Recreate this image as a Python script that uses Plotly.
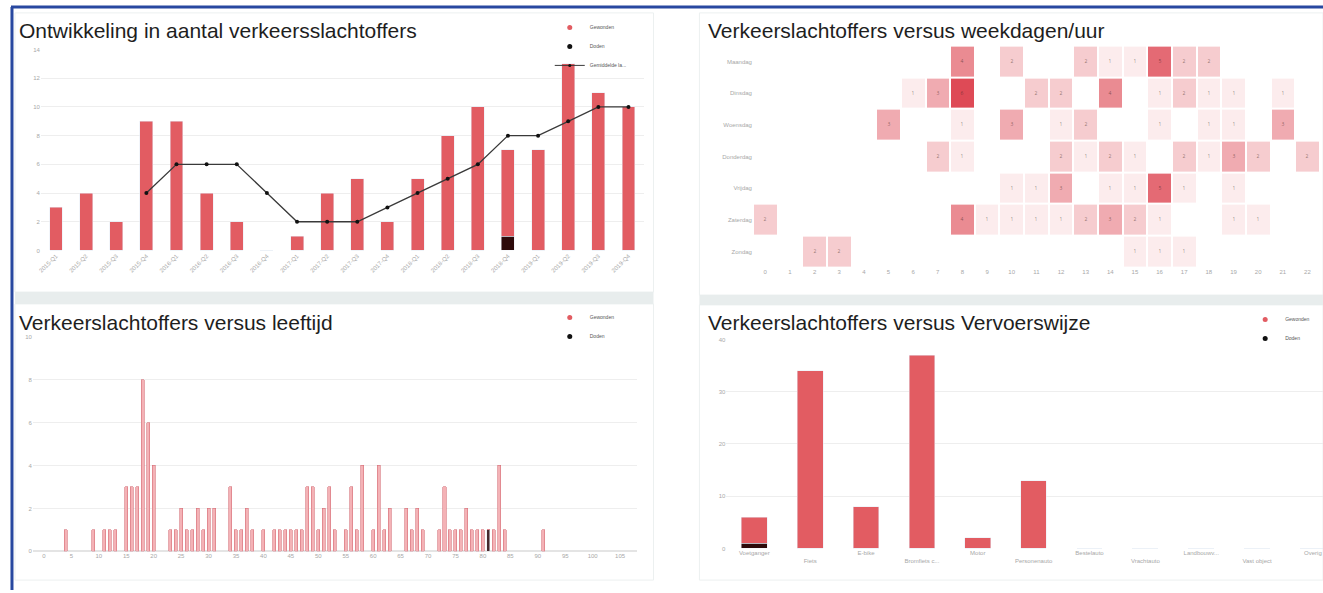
import plotly.graph_objects as go

W, H = 1323, 593

# ---------------- data ----------------
periods = ["2015-Q1", "2015-Q2", "2015-Q3", "2015-Q4", "2016-Q1", "2016-Q2", "2016-Q3", "2016-Q4",
           "2017-Q1", "2017-Q2", "2017-Q3", "2017-Q4", "2018-Q1", "2018-Q2", "2018-Q3", "2018-Q4",
           "2019-Q1", "2019-Q2", "2019-Q3", "2019-Q4"]
period_gewonden = [3, 4, 2, 9, 9, 4, 2, 0, 1, 4, 5, 2, 5, 8, 10, 6, 7, 13, 11, 10]
period_doden = [0, 0, 0, 0, 0, 0, 0, 0, 0, 0, 0, 0, 0, 0, 0, 1, 0, 0, 0, 0]
period_gemiddelde = [None, None, None, 4, 6, 6, 6, 4, 2, 2, 2, 3, 4, 5, 6, 8, 8, 9, 10, 10]

days = ["Maandag", "Dinsdag", "Woensdag", "Donderdag", "Vrijdag", "Zaterdag", "Zondag"]
hours = list(range(24))
# counts per day (rows) and hour (cols); missing = no victims
heat_maandag = {8: 4, 10: 2, 13: 2, 14: 1, 15: 1, 16: 5, 17: 2, 18: 2}
heat_dinsdag = {6: 1, 7: 3, 8: 6, 11: 2, 12: 2, 14: 4, 16: 1, 17: 2, 18: 1, 19: 1, 21: 1}
heat_woensdag = {5: 3, 8: 1, 10: 3, 12: 1, 13: 2, 16: 1, 18: 1, 19: 1, 21: 3}
heat_donderdag = {7: 2, 8: 1, 12: 2, 13: 1, 14: 2, 15: 1, 17: 2, 18: 1, 19: 3, 20: 2, 22: 2}
heat_vrijdag = {10: 1, 11: 1, 12: 3, 14: 1, 15: 1, 16: 5, 17: 1, 19: 1}
heat_zaterdag = {0: 2, 8: 4, 9: 1, 10: 1, 11: 1, 12: 1, 13: 2, 14: 3, 15: 2, 16: 1, 19: 1, 20: 1}
heat_zondag = {2: 2, 3: 2, 15: 1, 16: 1, 17: 1}

ages = [4, 9, 11, 12, 13, 15, 16, 17, 18, 19, 20, 23, 24, 25, 26, 27, 28, 29, 30, 31,
        34, 35, 36, 37, 38, 40, 42, 43, 44, 45, 46, 47, 48, 49, 50, 51, 52, 53, 55, 56,
        57, 58, 60, 61, 62, 63, 66, 67, 68, 69, 72, 73, 74, 75, 76, 77, 78, 79, 80, 81,
        82, 83, 84, 91]
age_gewonden = [1, 1, 1, 1, 1, 3, 3, 3, 8, 6, 4, 1, 1, 2, 1, 1, 2, 1, 2, 2,
                3, 1, 1, 2, 1, 1, 1, 1, 1, 1, 1, 1, 3, 3, 1, 2, 3, 1, 1, 3,
                1, 4, 1, 4, 1, 2, 2, 1, 2, 1, 1, 3, 1, 1, 1, 2, 1, 1, 1, 0,
                1, 4, 1, 1]
age_doden = [0] * 59 + [1] + [0] * 4

modes = ["Voetganger", "Fiets", "E-bike", "Bromfiets c...", "Motor", "Personenauto",
         "Bestelauto", "Vrachtauto", "Landbouwv...", "Vast object", "Overig"]
mode_gewonden = [5, 34, 8, 37, 2, 13, 0, 0, 0, 0, 0]
mode_doden = [1, 0, 0, 0, 0, 0, 0, 0, 0, 0, 0]

# ---------------- styling ----------------
RED = "rgb(226,92,98)"
DARK = "rgb(45,10,10)"
PINK = "rgb(244,178,182)"
PINK_LINE = "rgb(214,112,120)"
TICK = dict(size=6, color="#a8a8a8", family="Liberation Sans")
TITLE_FONT = dict(size=21, color="#1e1e1e", family="Liberation Sans")


def fx(px):
    return px / W


def fy(py):
    return 1 - py / H


fig = go.Figure()

# ---------- panel 1: development over time ----------
fig.add_trace(go.Bar(x=periods, y=period_doden, marker_color=DARK, width=0.43,
                     xaxis="x", yaxis="y", showlegend=False, name="Doden"))
fig.add_trace(go.Bar(x=periods, y=period_gewonden, marker_color=RED, width=0.43,
                     xaxis="x", yaxis="y", showlegend=False, name="Gewonden"))
fig.add_trace(go.Scatter(x=periods, y=period_gemiddelde, mode="lines+markers",
                         line=dict(color="#3a3a3a", width=1.3),
                         marker=dict(color="#111", size=4),
                         xaxis="x", yaxis="y", name="Gemiddelde la...",
                         showlegend=False, connectgaps=False))
# legend entries panel 1
fig.add_trace(go.Scatter(x=[None], y=[None], mode="markers", marker=dict(color=RED, size=5),
                         name="Gewonden", legend="legend", xaxis="x", yaxis="y"))
fig.add_trace(go.Scatter(x=[None], y=[None], mode="markers", marker=dict(color="#111", size=5),
                         name="Doden", legend="legend", xaxis="x", yaxis="y"))
fig.add_trace(go.Scatter(x=[None], y=[None], mode="lines+markers",
                         line=dict(color="#3a3a3a", width=1), marker=dict(color="#111", size=3),
                         name="Gemiddelde la...", legend="legend", xaxis="x", yaxis="y"))

# ---------- panel 2: heatmap ----------
rows = [heat_maandag, heat_dinsdag, heat_woensdag, heat_donderdag, heat_vrijdag,
        heat_zaterdag, heat_zondag]
z = [[r.get(h) for h in hours] for r in rows]
fig.add_trace(go.Heatmap(z=z, x=hours, y=days, xaxis="x2", yaxis="y2",
                         colorscale=[[0, "rgb(252,236,237)"], [1, "rgb(222,74,86)"]],
                         zmin=1, zmax=6, showscale=False, xgap=2, ygap=2,
                         texttemplate="%{z}", textfont=dict(size=5, color="rgba(60,30,30,0.55)"),
                         hoverongaps=False))

# ---------- panel 3: age ----------
fig.add_trace(go.Bar(x=ages, y=age_doden, marker=dict(color="rgb(70,40,45)"), width=0.55,
                     xaxis="x3", yaxis="y3", showlegend=False, name="Doden"))
fig.add_trace(go.Bar(x=ages, y=age_gewonden,
                     marker=dict(color=PINK, line=dict(color=PINK_LINE, width=0.6)), width=0.55,
                     xaxis="x3", yaxis="y3", showlegend=False, name="Gewonden"))
fig.add_trace(go.Scatter(x=[None], y=[None], mode="markers", marker=dict(color=RED, size=5),
                         name="Gewonden", legend="legend2", xaxis="x3", yaxis="y3"))
fig.add_trace(go.Scatter(x=[None], y=[None], mode="markers", marker=dict(color="#111", size=5),
                         name="Doden", legend="legend2", xaxis="x3", yaxis="y3"))

# ---------- panel 4: mode of transport ----------
fig.add_trace(go.Bar(x=modes, y=mode_doden, marker_color=DARK, width=0.46,
                     xaxis="x4", yaxis="y4", showlegend=False, name="Doden"))
fig.add_trace(go.Bar(x=modes, y=mode_gewonden, marker_color=RED, width=0.46,
                     xaxis="x4", yaxis="y4", showlegend=False, name="Gewonden"))
fig.add_trace(go.Scatter(x=[None], y=[None], mode="markers", marker=dict(color=RED, size=5),
                         name="Gewonden", legend="legend3", xaxis="x4", yaxis="y4"))
fig.add_trace(go.Scatter(x=[None], y=[None], mode="markers", marker=dict(color="#111", size=5),
                         name="Doden", legend="legend3", xaxis="x4", yaxis="y4"))

mode_ticktext = [m if i % 2 == 0 else "<br>" + m for i, m in enumerate(modes)]

grid = "rgba(236,236,236,0.9)"
legend_common = dict(font=dict(size=5, color="#555", family="Liberation Sans"),
                     bgcolor="rgba(0,0,0,0)", itemsizing="trace", traceorder="normal",
                     tracegroupgap=0, xanchor="left", yanchor="top")

h0 = 764
hstep = 24.7
a0 = 41
astep = 5.5

fig.update_layout(
    width=W, height=H, margin=dict(l=0, r=0, t=0, b=0),
    paper_bgcolor="white", plot_bgcolor="white",
    barmode="stack",
    xaxis=dict(domain=[fx(38), fx(642)], anchor="y", type="category", range=[-0.5, 19.5],
               tickangle=-45, tickfont=TICK, showgrid=False, showline=False, ticks=""),
    yaxis=dict(domain=[fy(250), fy(47)], anchor="x", range=[0, 14], dtick=2,
               tickfont=TICK, gridcolor=grid, zeroline=False, ticks=""),
    xaxis2=dict(domain=[fx(h0 - hstep / 2), 1], anchor="y2",
                range=[-0.5, (W - h0) / hstep], dtick=1,
                tickfont=TICK, showgrid=False, zeroline=False, ticks=""),
    yaxis2=dict(domain=[fy(267), fy(43)], anchor="x2", autorange="reversed",
                tickfont=TICK, showgrid=False, ticks=""),
    xaxis3=dict(domain=[fx(30), fx(635)], anchor="y3",
                range=[(30 - a0) / astep, (635 - a0) / astep],
                tickmode="linear", tick0=0, dtick=5, tickfont=TICK, showgrid=False,
                zeroline=False, ticks=""),
    yaxis3=dict(domain=[fy(554), fy(337)], anchor="x3", range=[0, 10], dtick=2,
                tickfont=TICK, gridcolor=grid, zeroline=True, zerolinecolor="#e4e4e4", ticks=""),
    xaxis4=dict(domain=[fx(725), 1], anchor="y4", type="category", range=[-0.5, 10.18],
                tickmode="array", tickvals=modes, ticktext=mode_ticktext, tickangle=0,
                tickfont=TICK, showgrid=False, ticks=""),
    yaxis4=dict(domain=[fy(551), fy(340)], anchor="x4", range=[0, 40], dtick=10,
                tickfont=TICK, gridcolor=grid, zeroline=False, ticks=""),
    legend=dict(x=fx(548), y=fy(10), **legend_common),
    legend2=dict(x=fx(548), y=fy(303), **legend_common),
    legend3=dict(x=fx(1245), y=fy(305), **legend_common),
    showlegend=True,
)

# titles
titles = [
    ("Ontwikkeling in aantal verkeersslachtoffers", 14, 28),
    ("Verkeerslachtoffers versus weekdagen/uur", 705, 28),
    ("Verkeerslachtoffers versus leeftijd", 14, 323),
    ("Verkeerslachtoffers versus Vervoerswijze", 705, 323),
]
for text, px, py in titles:
    fig.add_annotation(text=text, xref="paper", yref="paper", x=fx(px), y=fy(py),
                       xanchor="left", yanchor="middle", showarrow=False, font=TITLE_FONT)

# panel frames, separator bands and blue border
shapes = []
frame = "rgb(236,240,240)"
for x0, x1, y0, y1 in [(12, 652, 10, 292), (698, 1323, 10, 295), (12, 652, 304, 583), (698, 1323, 305, 583)]:
    shapes.append(dict(type="rect", xref="paper", yref="paper", x0=fx(x0), x1=fx(x1),
                       y0=fy(y1), y1=fy(y0), line=dict(color=frame, width=1), layer="below"))
band = "rgb(232,237,237)"
shapes.append(dict(type="rect", xref="paper", yref="paper", x0=fx(12), x1=fx(652),
                   y0=fy(304), y1=fy(292), fillcolor=band, line=dict(width=0), layer="below"))
shapes.append(dict(type="rect", xref="paper", yref="paper", x0=fx(698), x1=1,
                   y0=fy(305), y1=fy(295), fillcolor=band, line=dict(width=0), layer="below"))
blue = "rgb(40,72,160)"
shapes.append(dict(type="line", xref="paper", yref="paper", x0=fx(8), x1=1, y0=fy(4), y1=fy(4),
                   line=dict(color=blue, width=3)))
shapes.append(dict(type="line", xref="paper", yref="paper", x0=fx(9), x1=fx(9), y0=0, y1=fy(4),
                   line=dict(color=blue, width=3)))
fig.update_layout(shapes=shapes)

fig.write_html(
    "out.html",
    config={"displayModeBar": False},
    post_script="document.body.style.margin='0';document.body.style.overflow='hidden';",
)
